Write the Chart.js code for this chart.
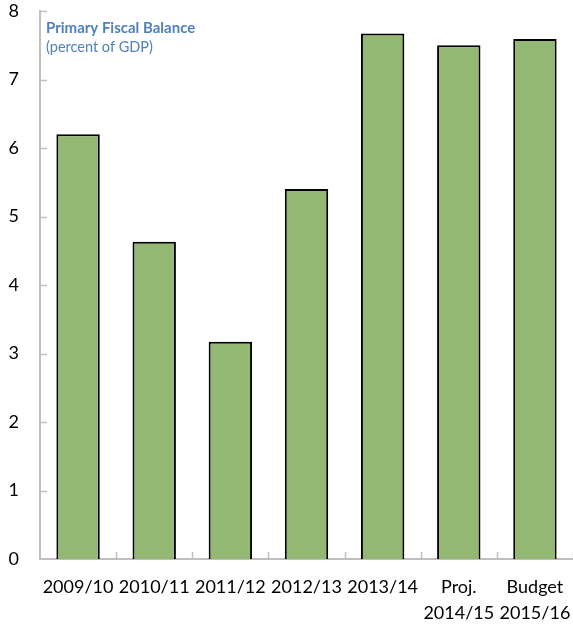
<!DOCTYPE html>
<html>
<head>
<meta charset="utf-8">
<script src="https://cdn.jsdelivr.net/npm/chart.js@4/dist/chart.umd.min.js"></script>
<style>
  html, body { margin: 0; padding: 0; background: #fff; }
</style>
</head>
<body>
<canvas id="balance-chart" width="573" height="628"></canvas>
<script>
// Chart data
var categories = ["2009/10", "2010/11", "2011/12", "2012/13", "2013/14", ["Proj.", "2014/15"], ["Budget", "2015/16"]];
var balance = [6.2, 4.63, 3.17, 5.4, 7.67, 7.5, 7.59];
var yTicks = [0, 1, 2, 3, 4, 5, 6, 7, 8];

var axisColor = "#bfbfbf";

// Title inside the plot, plus inward tick marks
var innerDecor = {
    id: "innerDecor",
    afterDraw: function (chart) {
        var ctx = chart.ctx;
        var area = chart.chartArea;
        var x = chart.scales.x;
        var y = chart.scales.y;
        ctx.save();
        ctx.strokeStyle = axisColor;
        ctx.lineWidth = 1.5;
        // y ticks pointing right
        yTicks.forEach(function (v) {
            if (v === 0) return;
            var py = Math.round(y.getPixelForValue(v)) + 0.5;
            ctx.beginPath();
            ctx.moveTo(area.left, py);
            ctx.lineTo(area.left + 7, py);
            ctx.stroke();
        });
        // x ticks at category boundaries pointing up
        for (var i = 0; i < categories.length; i++) {
            var px = Math.round((x.getPixelForValue(i) + x.getPixelForValue(i + 1)) / 2) + 0.5;
            ctx.beginPath();
            ctx.moveTo(px, area.bottom);
            ctx.lineTo(px, area.bottom - 7);
            ctx.stroke();
        }
        ctx.fillStyle = "#4f81bd";
        ctx.textBaseline = "alphabetic";
        ctx.textAlign = "left";
        ctx.font = "bold 15px Lato";
        ctx.fillText("Primary Fiscal Balance", area.left + 6, area.top + 22);
        ctx.font = "14.5px Lato";
        ctx.fillText("(percent of GDP)", area.left + 6, area.top + 41);
        ctx.restore();
    }
};

var ctx = document.getElementById("balance-chart");

var chartData = {
    labels: categories,
    datasets: [
        {
            data: balance,
            backgroundColor: "#93b874",
            borderColor: "#000000",
            borderWidth: 2,
            borderSkipped: "bottom",
            categoryPercentage: 1,
            barPercentage: 0.57,
        },
    ],
};

var chartOptions = {
    responsive: false,
    animation: false,
    layout: { padding: { top: 11, right: 0, left: 0, bottom: 0 } },
    plugins: {
        legend: { display: false },
        tooltip: { enabled: false },
    },
    scales: {
        x: {
            afterFit: function (scale) {
                scale.height = 69;
                scale.paddingLeft = 0;
                scale.paddingRight = 0;
            },
            grid: { display: false, drawTicks: false },
            border: { color: axisColor, width: 2 },
            ticks: {
                color: "#000",
                font: { family: "Lato", size: 18, lineHeight: 1.4 },
                padding: 16,
                maxRotation: 0,
                autoSkip: false,
            },
        },
        y: {
            min: 0,
            max: 8,
            afterFit: function (scale) {
                scale.width = 40;
                scale.paddingTop = 0;
                scale.paddingBottom = 0;
            },
            afterBuildTicks: function (scale) {
                scale.ticks = yTicks.map(function (v) { return { value: v }; });
            },
            grid: { display: false, drawTicks: false },
            border: { color: axisColor, width: 2 },
            ticks: {
                color: "#000",
                font: { family: "Lato", size: 18 },
                padding: 21,
            },
        },
    },
};

var balanceChart = new Chart(ctx, {
    type: "bar",
    data: chartData,
    options: chartOptions,
    plugins: [innerDecor],
});
</script>
</body>
</html>
